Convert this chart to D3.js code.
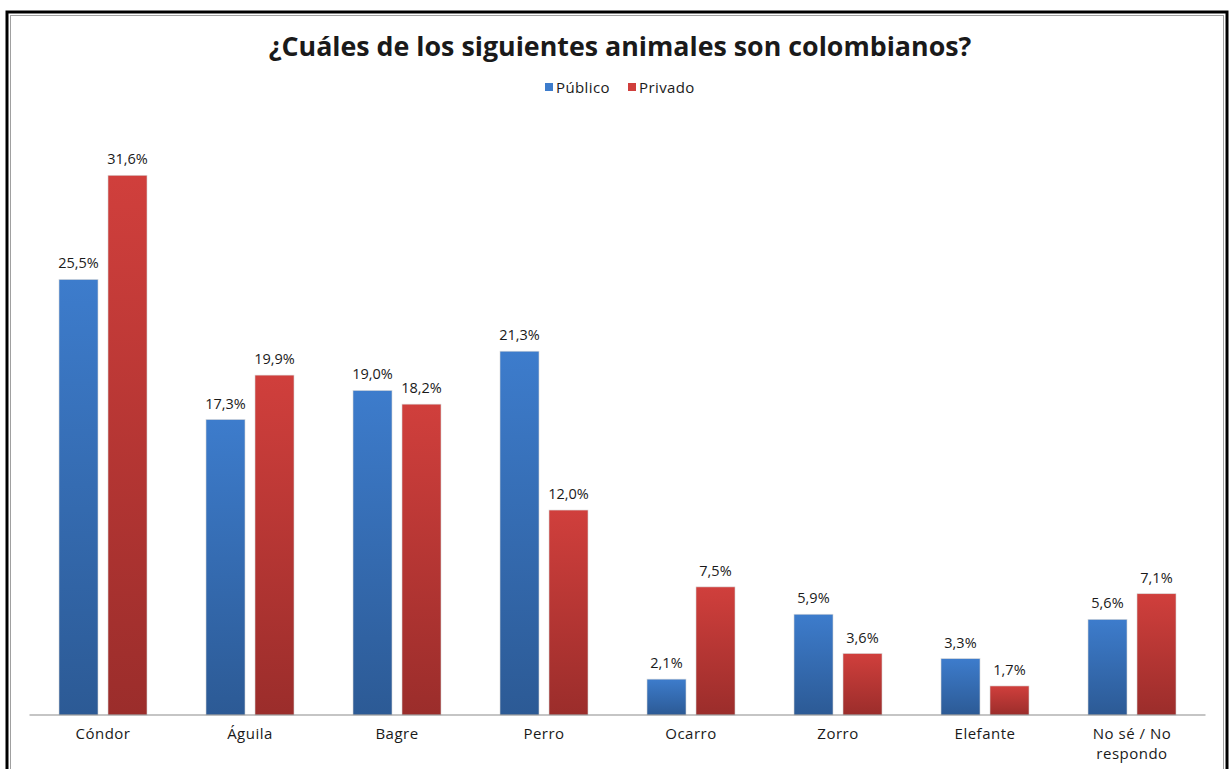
<!DOCTYPE html>
<html>
<head>
<meta charset="utf-8">
<script src="https://cdn.jsdelivr.net/npm/d3@7"></script>
<style>
  body { margin: 0; background: #fff; }
  text { font-family: "Open Sans", "DejaVu Sans", sans-serif; fill: #1a1a1a; }
</style>
</head>
<body>
<svg id="chart"></svg>
<script>
const categories = ["Cóndor", "Águila", "Bagre", "Perro", "Ocarro", "Zorro", "Elefante", "No sé / No respondo"]
const seriesNames = ["Público", "Privado"]
const publico = [25.5, 17.3, 19.0, 21.3, 2.1, 5.9, 3.3, 5.6]
const privado = [31.6, 19.9, 18.2, 12.0, 7.5, 3.6, 1.7, 7.1]
const colors = { "Público": ["#3d7ccc", "#2c5a95"], "Privado": ["#d03f3c", "#9b2d2b"] }

const W = 1229, H = 769
const margin = { left: 29.5, right: 23.5, top: 117, bottom: 54 }
const baseline = H - margin.bottom

const svg = d3.select("#chart").attr("width", W).attr("height", H)

// gradients for the bars
const defs = svg.append("defs")
seriesNames.forEach((s, i) => {
  const g = defs.append("linearGradient").attr("id", "grad" + i)
    .attr("x1", 0).attr("y1", 0).attr("x2", 0).attr("y2", 1)
  g.append("stop").attr("offset", "0%").attr("stop-color", colors[s][0])
  g.append("stop").attr("offset", "100%").attr("stop-color", colors[s][1])
})

// frames
svg.append("rect").attr("x", 7).attr("y", 12).attr("width", W - 9).attr("height", H)
  .attr("fill", "none").attr("stroke", "#000").attr("stroke-width", 3)
svg.append("rect").attr("x", 10.5).attr("y", 15.5).attr("width", W - 16).attr("height", H)
  .attr("fill", "none").attr("stroke", "#a0a0a0").attr("stroke-width", 1)

const data = categories.map((c, i) => ({ cat: c, values: [publico[i], privado[i]] }))

// band of 147 px, 88 px group inside
const x0 = d3.scaleBand().domain(categories).range([margin.left, W - margin.right]).padding(0)
const x1 = d3.scaleBand().domain(seriesNames).range([0, 88]).paddingInner(10 / 49)
const y = d3.scaleLinear().domain([0, 35]).range([baseline, baseline - 35 * 17.08])

// title
svg.append("text").attr("x", 620).attr("y", 56).attr("text-anchor", "middle")
  .style("font-size", "26.8px").style("font-weight", "bold")
  .text("¿Cuáles de los siguientes animales son colombianos?")

// legend
const legend = svg.append("g").attr("transform", "translate(545,80)")
const legX = [0, 83]
seriesNames.forEach((s, i) => {
  const lg = legend.append("g").attr("transform", `translate(${legX[i]},0)`)
  lg.append("rect").attr("y", 3).attr("width", 8).attr("height", 8).attr("fill", colors[s][0])
  lg.append("text").attr("x", 11).attr("y", 12.5).style("font-size", "15px")
    .style("letter-spacing", "0.4px").text(s)
})

// bars
const groups = svg.selectAll(".grp").data(data).enter().append("g")
  .attr("class", "grp")
  .attr("transform", d => `translate(${x0(d.cat) + (x0.bandwidth() - 88) / 2},0)`)

groups.selectAll("rect").data(d => d.values.map((v, i) => ({ s: seriesNames[i], i, v })))
  .enter().append("rect")
  .attr("x", d => x1(d.s))
  .attr("y", d => y(d.v))
  .attr("width", x1.bandwidth())
  .attr("height", d => baseline - y(d.v))
  .attr("fill", d => `url(#grad${d.i})`)
  .attr("stroke", "#d8d8d8").attr("stroke-width", 0.6)

groups.selectAll(".lbl").data(d => d.values.map((v, i) => ({ s: seriesNames[i], v })))
  .enter().append("text").attr("class", "lbl")
  .attr("x", d => x1(d.s) + x1.bandwidth() / 2)
  .attr("y", d => y(d.v) - 11)
  .attr("text-anchor", "middle")
  .style("font-size", "14.5px")
  .text(d => d3.format(".1f")(d.v).replace(".", ",") + "%")

// x axis
const axis = svg.append("g").attr("transform", `translate(0,${baseline})`)
  .call(d3.axisBottom(x0).tickSize(0).tickFormat(""))
axis.select(".domain").attr("stroke", "#8c8c8c").attr("stroke-width", 1.2)
  .attr("d", `M${margin.left},0H${W - margin.right}`)

// category labels, the last one wrapped on two separate lines
axis.selectAll(".tick").each(function (d) {
  const tick = d3.select(this)
  const parts = d === "No sé / No respondo" ? ["No sé / No", "respondo"] : [d]
  parts.forEach((p, k) => tick.append("text").attr("text-anchor", "middle")
    .style("font-size", "15px").style("letter-spacing", "0.5px")
    .attr("y", 24 + k * 20).text(p))
})
</script>
</body>
</html>
